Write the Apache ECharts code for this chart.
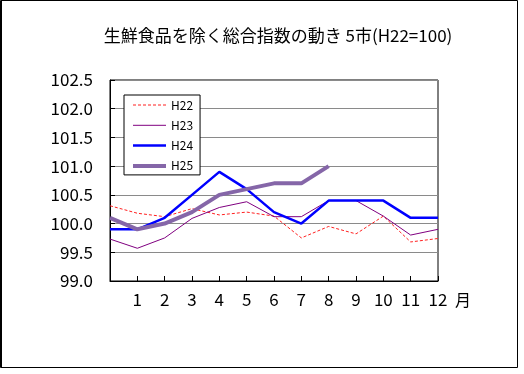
<!DOCTYPE html>
<html><head><meta charset="utf-8">
<script src="https://cdn.jsdelivr.net/npm/echarts@6/dist/echarts.min.js"></script>
<style>html,body{margin:0;padding:0;background:#fff}#c{width:524px;height:374px}</style>
</head><body><div id="c"></div>
<script>
const months = ['', '1', '2', '3', '4', '5', '6', '7', '8', '9', '10', '11', '12'];
const seriesNames = ['H22', 'H23', 'H24', 'H25'];
const h22 = [100.31, 100.18, 100.12, 100.26, 100.15, 100.2, 100.13, 99.75, 99.95, 99.82, 100.13, 99.68, 99.74];
const h23 = [99.73, 99.57, 99.75, 100.09, 100.28, 100.38, 100.12, 100.12, 100.4, 100.4, 100.13, 99.8, 99.9];
const h24 = [99.9, 99.9, 100.1, 100.5, 100.9, 100.6, 100.2, 100.0, 100.4, 100.4, 100.4, 100.1, 100.1];
const h25 = [100.1, 99.9, 100.0, 100.2, 100.5, 100.6, 100.7, 100.7, 101.0];
const yMin = 99.0, yMax = 102.5, yStep = 0.5;
const titleText = '生鮮食品を除く総合指数の動き 5市(H22=100)';
const unitText = '月';

const font = '"Noto Sans CJK JP", sans-serif';
const styles = [
  {color: '#ff2020', width: 1, type: [3, 2]},
  {color: '#800080', width: 1, type: 'solid'},
  {color: '#0000ff', width: 2.5, type: 'solid'},
  {color: '#8566a8', width: 4, type: 'solid'}
];
const seriesData = [h22, h23, h24, h25];

const chart = echarts.init(document.getElementById('c'), null, {renderer: 'canvas'});
chart.setOption({
  animation: false,
  backgroundColor: '#fff',
  title: {
    text: titleText, left: 273, top: 22, textAlign: 'center',
    textStyle: {fontFamily: font, fontSize: 17, fontWeight: 'normal', color: '#000'}
  },
  grid: {left: 110, right: 86, top: 80, bottom: 93, show: true, borderColor: '#000', borderWidth: 1, backgroundColor: 'transparent'},
  legend: {
    data: seriesNames.map((n, i) => ({name: n, lineStyle: {width: styles[i].width, type: styles[i].type, color: styles[i].color}})),
    orient: 'vertical', left: 124, top: 95,
    backgroundColor: '#fff', borderColor: '#000', borderWidth: 1,
    padding: [3, 7, 2, 7], itemWidth: 33, itemHeight: 14, itemGap: 6.3,
    itemStyle: {opacity: 0},
    textStyle: {fontFamily: font, fontSize: 12, color: '#000', lineHeight: 14}
  },
  xAxis: {
    type: 'category', data: months, boundaryGap: false,
    name: unitText, nameLocation: 'end', nameGap: 17,
    nameTextStyle: {fontFamily: font, fontSize: 16, color: '#000', verticalAlign: 'top', padding: [11, 0, 0, 0]},
    axisLine: {lineStyle: {color: '#000', width: 1}},
    axisTick: {inside: true, length: 5, lineStyle: {color: '#000'}},
    axisLabel: {fontFamily: font, fontSize: 17, color: '#000', margin: 10, showMinLabel: true},
    splitLine: {show: false}
  },
  yAxis: {
    type: 'value', min: yMin, max: yMax, interval: yStep,
    axisLine: {show: true, lineStyle: {color: '#000', width: 1}},
    axisTick: {show: true, inside: true, length: 5, lineStyle: {color: '#000'}},
    axisLabel: {fontFamily: font, fontSize: 17, color: '#000', margin: 17, formatter: v => v.toFixed(1)},
    splitLine: {show: true, lineStyle: {color: '#8a8a8a', width: 1}}
  },
  series: seriesNames.map((n, i) => ({
    name: n, type: 'line', data: seriesData[i], symbol: 'none',
    lineStyle: {color: styles[i].color, width: styles[i].width, type: styles[i].type},
    itemStyle: {color: styles[i].color}
  })),
  graphic: [
    {type: 'rect', shape: {x: 0.5, y: 0.5, width: 517, height: 367}, style: {fill: 'none', stroke: '#000', lineWidth: 1}, silent: true},
    {type: 'line', shape: {x1: 1.5, y1: 0, x2: 1.5, y2: 368}, style: {stroke: '#000', lineWidth: 1}, silent: true}
  ]
});
</script></body></html>
